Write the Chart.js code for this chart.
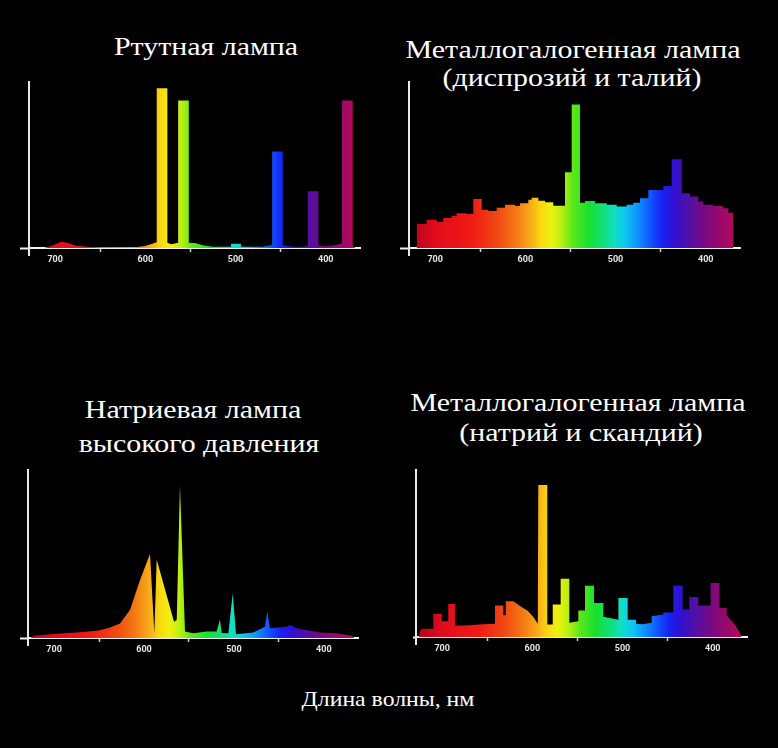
<!DOCTYPE html>
<html lang="ru">
<head>
<meta charset="utf-8">
<title>Спектры ламп</title>
<script src="https://cdn.jsdelivr.net/npm/chart.js@4.4.1/dist/chart.umd.min.js"></script>
<style>
  html, body { margin: 0; padding: 0; background: #000; }
  body { width: 778px; height: 748px; position: relative; overflow: hidden; }
  .t {
    position: absolute; width: 420px; text-align: center; color: #fff;
    font-family: "Liberation Serif", "Times New Roman", serif;
    font-size: 26px; line-height: 26px; white-space: nowrap;
    transform: scaleX(1.15); transform-origin: 50% 50%;
  }
  canvas { position: absolute; }
</style>
</head>
<body>
<div class="t" style="left:-4px;top:34px">Ртутная лампа</div>
<div class="t" style="left:363px;top:37px">Металлогалогенная лампа</div>
<div class="t" style="left:362px;top:65px">(диспрозий и талий)</div>
<div class="t" style="left:-17px;top:397px">Натриевая лампа</div>
<div class="t" style="left:-11px;top:431px">высокого давления</div>
<div class="t" style="left:368px;top:390px">Металлогалогенная лампа</div>
<div class="t" style="left:371px;top:420px">(натрий и скандий)</div>
<div class="t" style="left:178px;top:688px;font-size:22px;line-height:22px;transform:scaleX(1.08)">Длина волны, нм</div>

<canvas id="mercury"></canvas>
<canvas id="dyTl"></canvas>
<canvas id="hps"></canvas>
<canvas id="naSc"></canvas>

<script>
// wavelength axis, nm (drawn long -> short, like the original)
const wlMin = 362;
const wlMax = 729;
const wlTicks = [700, 650, 600, 550, 500, 450, 400];

// Ртутная лампа: separate lines + weak background glow
const mercuryLines = [581.5, 557.7, 453.5, 414, 376];
const mercuryPeaks = [96, 88.6, 58, 34, 88.6];
const mercuryBaseWl = [712, 703, 693, 686, 678, 665, 650, 612, 600, 590, 585, 578, 571, 565, 555, 545, 535, 525,
  505, 505, 494, 494, 470, 462, 454, 446, 435, 425, 418, 410, 400, 392, 383, 376, 370, 367];
const mercuryBase = [0, 1.5, 3.8, 3, 1.5, 0.8, 0.4, 0.4, 1.2, 3, 3.8, 3.5, 2.2, 3, 3.2, 3, 1.5, 0.8,
  0.8, 2.6, 2.6, 0.8, 0.8, 1.5, 2.5, 1.5, 0.8, 0.8, 1.5, 1.5, 1, 1.5, 2.5, 2.5, 1.5, 0];

// Металлогалогенная (диспрозий и талий): histogram bins
const dyTlEdges = [720.5, 709.4, 698.3, 691, 681.7, 676.2, 665, 657.7, 648.4, 641, 631.8, 622.6, 611.5, 605.9,
  596.7, 593, 585.6, 578.2, 569, 556, 548.6, 539.4, 533.9, 522.8, 509.8, 498.7, 487.6, 480.3, 472.9, 463.6,
  447, 437.7, 426.6, 417.4, 408.2, 402.7, 391.6, 380.5, 374.9, 369.4];
const dyTlLevels = [14.5, 17, 15.8, 18, 19.5, 21, 20.5, 29.5, 23, 22.3, 24.3, 26, 25.3, 27, 29, 30.3, 28.5,
  27.5, 25.5, 45.6, 86.5, 27.3, 28.3, 27, 26, 25, 26, 27.3, 30, 35, 37.3, 53.4, 33, 31, 28, 26, 25.3, 24, 21.3];

// Натриевая лампа высокого давления
const hpsWl = [726, 723, 700.9, 671, 650, 637.8, 626.7, 615.6, 604.4, 593.3, 588.5, 585.9, 566.6, 563.6, 560,
  554.4, 545.2, 530.3, 519.2, 515.5, 513.6, 506.2, 501.3, 497.7, 478.4, 465.4, 462.9, 459.9, 441.3, 437.6,
  430.2, 404.3, 385.7, 369, 366];
const hpsVal = [0, 1.4, 2.4, 3.4, 4.5, 6.2, 8.7, 16.7, 34.5, 50, 2.8, 46.8, 9.7, 10.7, 91,
  3.8, 2.8, 3.8, 3.9, 11.1, 3, 2.8, 26.6, 2.2, 3.2, 6.7, 15.7, 5.8, 6.7, 7.7,
  5.8, 3.2, 2.8, 1.4, 0];

// Металлогалогенная (натрий и скандий)
const naScWl = [726, 724.6, 722, 709.8, 709.8, 700.5, 700.5, 693.2, 693.2, 685.8, 685.8, 670, 655, 641.4,
  641.4, 632.2, 632.2, 629.5, 629.5, 621.1, 613.7, 605, 598.9, 594, 593.4, 583.4, 583.4, 577.4, 577.4,
  568.6, 568.6, 559, 559, 549, 549, 541.6, 541.6, 531.6, 531.6, 521.3, 521.3, 504.6, 504.6, 494.3, 494.3,
  485, 485, 478, 467.7, 467.7, 454.8, 454.8, 443.7, 443.7, 433.3, 433.3, 426, 426, 416, 416, 402.3,
  402.3, 392.7, 392.7, 384.5, 384.5, 375, 369.8, 368];
const naScVal = [0, 3.9, 4.9, 4.9, 13.9, 13.9, 9.4, 9.4, 19.8, 19.8, 6.8, 7, 7.6, 8,
  18.8, 18.8, 13, 13, 21.4, 21.4, 18.5, 15.5, 12, 8, 91, 91, 7.5, 7.5, 19.4,
  19.4, 34.9, 34.9, 8.5, 9.5, 15.8, 15.8, 30.7, 30.7, 20.4, 20.4, 12.2, 10.4, 23.4, 23.4, 10.4,
  10.4, 8, 7.6, 8.5, 12.4, 13.5, 14.6, 14.6, 30.7, 30.7, 16.4, 16.4, 24, 24, 18.8, 18.8,
  32.4, 32.4, 17.4, 17.4, 13, 7, 2.5, 0];

// spectrum colours along the wavelength axis
const SPECTRUM = [
  [729, '#b0001c'], [700, '#e00c1c'], [660, '#f01a14'], [630, '#f04a12'], [610, '#f47a14'],
  [595, '#f8a818'], [583, '#f8d810'], [572, '#f0f010'], [560, '#b8f010'], [548, '#60e818'],
  [530, '#18e030'], [515, '#10e070'], [502, '#10e0c0'], [490, '#10c8f0'], [475, '#1090ff'],
  [460, '#1050ff'], [448, '#1820f0'], [435, '#3010d0'], [420, '#5010a8'], [405, '#700a88'],
  [390, '#900870'], [375, '#a80a60'], [362, '#b00a58']
];

function spectrumFill(context) {
  const chart = context.chart;
  const xs = chart.scales.x;
  if (!chart.chartArea || !xs) return 'rgba(0,0,0,0)';
  const g = chart.ctx.createLinearGradient(xs.getPixelForValue(wlMax), 0, xs.getPixelForValue(wlMin), 0);
  SPECTRUM.forEach(([wl, c]) => g.addColorStop((wlMax - wl) / (wlMax - wlMin), c));
  return g;
}

const toPoints = (xs, ys) => xs.map((x, i) => ({ x, y: ys[i] }));

function stepPoints(edges, levels) {
  const pts = [{ x: edges[0], y: 0 }];
  levels.forEach((v, i) => {
    pts.push({ x: edges[i], y: v }, { x: edges[i + 1], y: v });
  });
  pts.push({ x: edges[edges.length - 1], y: 0 });
  return pts;
}

function area(data) {
  return {
    type: 'line',
    data,
    fill: 'origin',
    backgroundColor: spectrumFill,
    borderColor: 'transparent',
    borderWidth: 0,
    pointRadius: 0,
    tension: 0
  };
}

// y axis runs a little below the x axis
const axisStub = {
  id: 'axisStub',
  afterDraw(chart) {
    const { ctx, chartArea } = chart;
    ctx.save();
    ctx.strokeStyle = '#e8e8e8';
    ctx.lineWidth = 2;
    ctx.beginPath();
    ctx.moveTo(chartArea.left, chartArea.bottom);
    ctx.lineTo(chartArea.left, chartArea.bottom + 8);
    ctx.stroke();
    ctx.restore();
  }
};

function makeChart(id, box, stubLen, datasets) {
  const cv = document.getElementById(id);
  const padTop = 3, padRight = 3, axisH = 22;
  cv.width = box.right - box.left + stubLen + padRight;
  cv.height = box.bottom - box.top + padTop + axisH;
  cv.style.left = (box.left - stubLen) + 'px';
  cv.style.top = (box.top - padTop) + 'px';

  return new Chart(cv, {
    type: 'line',
    data: { datasets },
    options: {
      responsive: false,
      animation: false,
      events: [],
      layout: { padding: { top: padTop, right: padRight, left: 0, bottom: 0 } },
      plugins: { legend: { display: false }, tooltip: { enabled: false } },
      scales: {
        x: {
          type: 'linear',
          min: wlMin,
          max: wlMax,
          reverse: true,
          offset: false,
          afterBuildTicks: (axis) => { axis.ticks = wlTicks.map((v) => ({ value: v })); },
          afterFit: (scale) => { scale.height = axisH; },
          grid: {
            offset: false,
            drawOnChartArea: false,
            tickLength: 4,
            tickWidth: 1.5,
            tickColor: (ctx) => (ctx.tick && ctx.tick.value % 100 !== 0 ? '#cfcfcf' : 'transparent')
          },
          border: { display: true, color: '#f2f2f2', width: 2 },
          ticks: {
            autoSkip: false,
            maxRotation: 0,
            padding: 2,
            color: '#e6e6e6',
            font: { family: 'Roboto', weight: 'bold', size: 9 },
            callback: (v) => (v % 100 === 0 ? String(v) : '')
          }
        },
        y: {
          min: 0,
          max: 100,
          afterBuildTicks: (axis) => { axis.ticks = [{ value: 0 }]; },
          afterFit: (scale) => { scale.width = stubLen; },
          grid: { drawOnChartArea: false, tickLength: stubLen, tickColor: '#f2f2f2', tickWidth: 2 },
          border: { display: true, color: '#e8e8e8', width: 2 },
          ticks: { display: false }
        }
      }
    },
    plugins: [axisStub]
  });
}

makeChart('mercury', { left: 29, right: 360, top: 82, bottom: 248 }, 9, [
  {
    type: 'bar',
    data: toPoints(mercuryLines, mercuryPeaks),
    backgroundColor: spectrumFill,
    borderWidth: 0,
    barThickness: 10
  },
  area(toPoints(mercuryBaseWl, mercuryBase))
]);

makeChart('dyTl', { left: 409, right: 740, top: 82, bottom: 248 }, 9, [
  area(stepPoints(dyTlEdges, dyTlLevels))
]);

makeChart('hps', { left: 28, right: 358, top: 470, bottom: 638 }, 8, [
  area(toPoints(hpsWl, hpsVal))
]);

makeChart('naSc', { left: 416, right: 747, top: 470, bottom: 637 }, 3, [
  area(toPoints(naScWl, naScVal))
]);
</script>
</body>
</html>
